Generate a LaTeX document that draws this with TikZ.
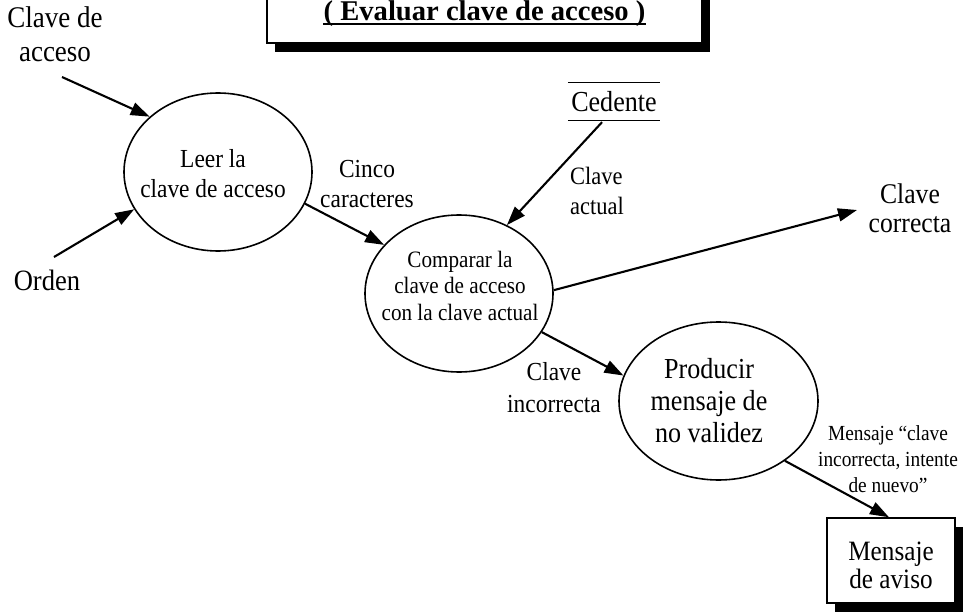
\documentclass[tikz,border=0pt]{standalone}
\usepackage{fontspec}
\setmainfont[FakeStretch=0.9]{Liberation Serif}
\newfontfamily\titlefont{Liberation Serif}
\usetikzlibrary{shapes.geometric,arrows.meta,shadows}
\newcommand{\fsz}[2]{\fontsize{#1}{#2}\selectfont}
\begin{document}
\begin{tikzpicture}[x=1pt,y=-1pt,
  proc/.style={draw, ellipse, line width=1.6pt, inner sep=0pt},
  flow/.style={line width=2.1pt, -{Triangle[length=19pt,width=13pt]}},
  lbl/.style={inner sep=0pt, align=center, anchor=base},
  shadowbox/.style={draw, fill=white, line width=1.5pt, inner sep=0pt,
    drop shadow={shadow xshift=8pt, shadow yshift=-9pt, fill=black, opacity=1}},
  store/.style={inner sep=0pt, minimum width=92pt, minimum height=37pt}]
\useasboundingbox (0,0) rectangle (969,615);

% title frame (its top runs off the page); multi-line labels are placed by their last baseline
\node[shadowbox, minimum width=435pt, minimum height=53pt] (tbox) at (484.5,16.5) {};
\node[lbl, font={\titlefont\bfseries\fsz{28.6}{30}}] (title) at (484.5,21) {( Evaluar clave de acceso )};
\draw[line width=1.6pt] ([yshift=-3pt]title.base west) -- ([yshift=-3pt]title.base east);

% processes
\node[proc, minimum width=188pt, minimum height=158pt] (e1) at (218,172) {};
\node[lbl, font=\fsz{26}{30}] (e1t) at (213,197) {Leer la\\clave de acceso};
\node[proc, minimum width=188pt, minimum height=157pt] (e2) at (459,293.5) {};
\node[lbl, font=\fsz{23.5}{26.5}] (e2t) at (460,320) {Comparar la\\clave de acceso\\con la clave actual};
\node[proc, minimum width=199pt, minimum height=158pt] (e3) at (718.5,401) {};
\node[lbl, font=\fsz{29}{32}] (e3t) at (709,442) {Producir\\mensaje de\\no validez};

% data store
\node[store, font=\fsz{29}{30}] (ced) at (614,101.5) {Cedente};
\draw[line width=1.3pt] (ced.north west) -- (ced.north east);
\draw[line width=1.3pt] (ced.south west) -- (ced.south east);

% terminator
\node[shadowbox, minimum width=128pt, minimum height=85pt] (aviso) at (891,560.5) {};
\node[lbl, font=\fsz{28}{28}] (avisot) at (891,588) {Mensaje\\de aviso};

% flow labels
\node[lbl, font=\fsz{30}{34}] (inClave) at (55,62) {Clave de\\acceso};
\node[lbl, font=\fsz{29.5}{30}] (inOrden) at (47,290) {Orden};
\node[lbl, font=\fsz{26}{30}] (cinco) at (367,207) {Cinco\\caracteres};
\node[lbl, align=left, anchor=base west, font=\fsz{25}{30}] (actual) at (570,214) {Clave\\actual};
\node[lbl, font=\fsz{28.5}{29}] (correcta) at (910,232) {Clave\\correcta};
\node[lbl, font=\fsz{26}{32}] (incorrecta) at (554,412) {Clave\\incorrecta};
\node[lbl, font=\fsz{21.5}{26}] (msg) at (888,492) {Mensaje “clave\\incorrecta, intente\\de nuevo”};

% free ends of the flows
\coordinate (srcA) at (62,77);
\coordinate (srcB) at (54,257);
\coordinate (okEnd) at (857,210);

% flows
\draw[flow] (srcA) -- (e1.141);
\draw[flow] (srcB) -- (e1.204.6);
\draw[flow] (e1.-20) -- (e2.147.5);
\draw[flow] ([xshift=-12pt,yshift=-2pt]ced.south) -- (e2.55);
\draw[flow] (e2.2) -- (okEnd);
\draw[flow] (e2.-25) -- (e3.165);
\draw[flow] (e3.-42.5) -- ([xshift=-2pt]aviso.north);
\end{tikzpicture}
\end{document}
